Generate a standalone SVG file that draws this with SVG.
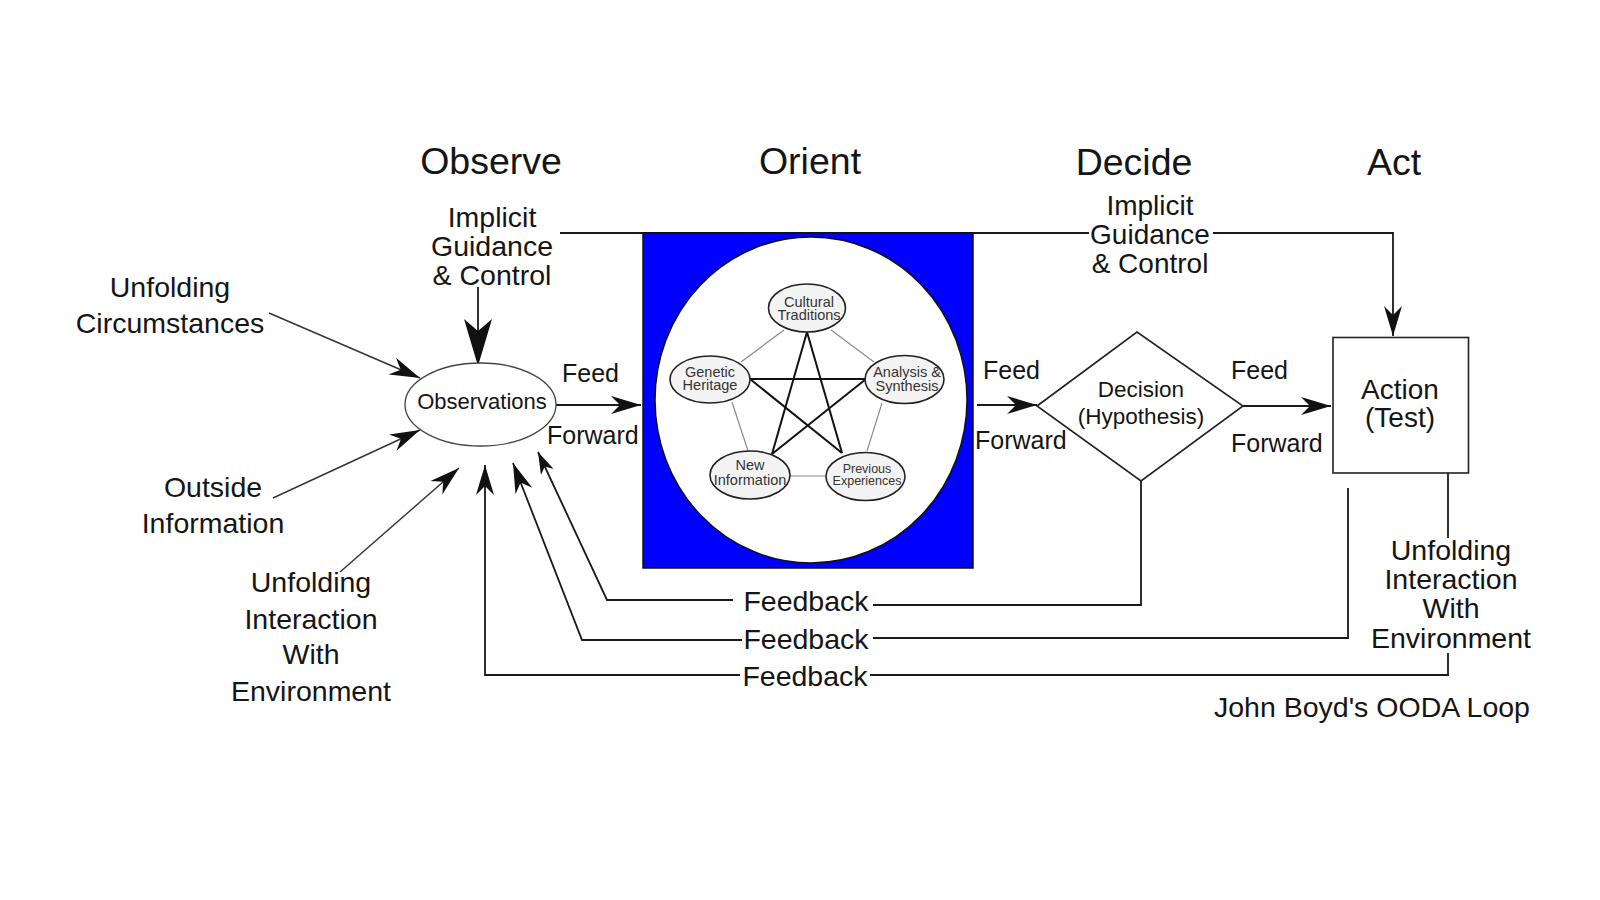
<svg xmlns="http://www.w3.org/2000/svg" width="1600" height="900" viewBox="0 0 1600 900">
<style>
  text { font-family: "Liberation Sans", Arial, sans-serif; fill: #151515; }
  .title { font-size: 37.5px; text-anchor: middle; }
  .lbl { font-size: 28.5px; text-anchor: middle; }
  .lbl2 { font-size: 28px; text-anchor: middle; }
  .ff { font-size: 25px; }
  .mid { font-size: 22.5px; text-anchor: middle; }
  .inner { font-size: 14.5px; text-anchor: middle; fill: #333; }
  .inner2 { font-size: 12.5px; text-anchor: middle; fill: #333; }
  .ln { fill: none; stroke: #1a1a1a; stroke-width: 1.8; }
  .thin { fill: none; stroke: #333; stroke-width: 1.4; }
  .star { stroke: #111; stroke-width: 2; fill: none; }
  .pent { stroke: #8a8a8a; stroke-width: 1.2; fill: none; }
  .sub { fill: #f3f3f3; stroke: #222; stroke-width: 1.6; }
</style>
<defs>
  <marker id="ah" viewBox="0 0 30 20" refX="30" refY="10" markerWidth="30" markerHeight="20" orient="auto" markerUnits="userSpaceOnUse">
    <path d="M0,1 L30,10 L0,19 L9,10 z" fill="#111"/>
  </marker>
  <marker id="ahs" viewBox="0 0 22 14" refX="22" refY="7" markerWidth="22" markerHeight="14" orient="auto" markerUnits="userSpaceOnUse">
    <path d="M0,0 L22,7 L0,14 L6,7 z" fill="#111"/>
  </marker>
  <marker id="ahb" viewBox="0 0 47 28" refX="47" refY="14" markerWidth="47" markerHeight="28" orient="auto" markerUnits="userSpaceOnUse">
    <path d="M0,0 L47,14 L0,28 L12,14 z" fill="#111"/>
  </marker>
</defs>
<rect width="1600" height="900" fill="#ffffff"/>

<g id="titles">
  <text class="title" x="491" y="174">Observe</text>
  <text class="title" x="810" y="174">Orient</text>
  <text class="title" x="1134" y="175">Decide</text>
  <text class="title" x="1394" y="175">Act</text>
</g>

<g id="connectors">
  <path class="ln" d="M560,233 H1089"/>
  <path class="ln" d="M1213,233 H1393 V336" marker-end="url(#ah)"/>
  <path class="ln" d="M478,287 V366" marker-end="url(#ahb)"/>
  <path class="thin" d="M269,313 L420,378" marker-end="url(#ah)"/>
  <path class="thin" d="M273,498 L420,430" marker-end="url(#ah)"/>
  <path class="thin" d="M340,572 L459,468" marker-end="url(#ah)"/>
  <path class="ln" d="M556,405 H641" marker-end="url(#ah)"/>
  <path class="ln" d="M977,405 H1037" marker-end="url(#ah)"/>
  <path class="ln" d="M1243,406 H1331" marker-end="url(#ah)"/>
  <path class="ln" d="M1141,481 V605 H873"/>
  <path class="ln" d="M733,600 H607 L538,452" marker-end="url(#ahs)"/>
  <path class="ln" d="M1348,488 V638 H873"/>
  <path class="ln" d="M742,640 H582 L513,463" marker-end="url(#ah)"/>
  <path class="ln" d="M1448,473 V538"/>
  <path class="ln" d="M1448,653 V675 H870"/>
  <path class="ln" d="M740,675 H485 V465" marker-end="url(#ah)"/>
</g>

<g id="implicit-left">
  <text class="lbl" x="492" y="227">Implicit</text>
  <text class="lbl" x="492" y="256">Guidance</text>
  <text class="lbl" x="492" y="285">&amp; Control</text>
</g>
<g id="implicit-right">
  <text class="lbl2" x="1150" y="214.5">Implicit</text>
  <text class="lbl2" x="1150" y="243.5">Guidance</text>
  <text class="lbl2" x="1150" y="272.5">&amp; Control</text>
</g>

<g id="unfolding-circumstances">
  <text class="lbl" x="170" y="297">Unfolding</text>
  <text class="lbl" x="170" y="333">Circumstances</text>
</g>
<g id="outside-information">
  <text class="lbl" x="213" y="497">Outside</text>
  <text class="lbl" x="213" y="533">Information</text>
</g>
<g id="unfolding-interaction-left">
  <text class="lbl" x="311" y="592">Unfolding</text>
  <text class="lbl" x="311" y="628.5">Interaction</text>
  <text class="lbl" x="311" y="664">With</text>
  <text class="lbl" x="311" y="700.5">Environment</text>
</g>

<g id="observations">
  <ellipse cx="480.5" cy="404.5" rx="75.5" ry="41.5" fill="#ffffff" stroke="#444" stroke-width="1.3"/>
  <text x="482" y="408.5" font-size="22" text-anchor="middle">Observations</text>
</g>

<g id="feed-forward-1">
  <text class="ff" x="562" y="382">Feed</text>
  <text class="ff" x="547" y="443.5">Forward</text>
</g>

<g id="orient">
  <rect x="643" y="233" width="330" height="335" fill="#0000ff" stroke="#111" stroke-width="1.5"/>
  <ellipse cx="811" cy="400" rx="156" ry="163" fill="#ffffff" stroke="#111" stroke-width="1.5"/>
  <g id="pentagon">
    <line class="pent" x1="784" y1="330" x2="741" y2="362"/>
    <line class="pent" x1="831" y1="330" x2="874" y2="362"/>
    <line class="pent" x1="732" y1="402" x2="748" y2="451"/>
    <line class="pent" x1="882" y1="403" x2="867" y2="451"/>
    <line class="pent" x1="790" y1="476" x2="826" y2="476"/>
  </g>
  <g id="star">
    <line class="star" x1="807" y1="332" x2="772" y2="454"/>
    <line class="star" x1="807" y1="332" x2="842" y2="453"/>
    <line class="star" x1="750" y1="379" x2="866" y2="379"/>
    <line class="star" x1="750" y1="379" x2="842" y2="453"/>
    <line class="star" x1="866" y1="379" x2="772" y2="454"/>
  </g>
  <g id="cultural-traditions">
    <ellipse class="sub" cx="807" cy="308" rx="38.5" ry="24"/>
    <text class="inner" x="809" y="306.5">Cultural</text>
    <text class="inner" x="809" y="320">Traditions</text>
  </g>
  <g id="genetic-heritage">
    <ellipse class="sub" cx="710" cy="379.5" rx="40" ry="23.5"/>
    <text class="inner" x="710" y="376.5">Genetic</text>
    <text class="inner" x="710" y="390">Heritage</text>
  </g>
  <g id="analysis-synthesis">
    <ellipse class="sub" cx="904.5" cy="379.5" rx="39.5" ry="24"/>
    <text class="inner" x="907" y="376.5">Analysis &amp;</text>
    <text class="inner" x="907" y="391">Synthesis</text>
  </g>
  <g id="new-information">
    <ellipse class="sub" cx="750" cy="475" rx="40" ry="24"/>
    <text class="inner" x="750" y="470">New</text>
    <text class="inner" x="750" y="484.5">Information</text>
  </g>
  <g id="previous-experiences">
    <ellipse class="sub" cx="865.5" cy="476.5" rx="39.5" ry="24"/>
    <text class="inner2" x="867" y="473">Previous</text>
    <text class="inner2" x="867" y="484.5">Experiences</text>
  </g>
</g>

<g id="feed-forward-2">
  <text class="ff" x="983" y="378.5">Feed</text>
  <text class="ff" x="975" y="448.5">Forward</text>
</g>

<g id="decision">
  <polygon points="1037,406 1137,332 1243,406 1141,481" fill="#ffffff" stroke="#222" stroke-width="1.6"/>
  <text class="mid" x="1141" y="397">Decision</text>
  <text class="mid" x="1141" y="423.5">(Hypothesis)</text>
</g>

<g id="feed-forward-3">
  <text class="ff" x="1231" y="378.5">Feed</text>
  <text class="ff" x="1231" y="452">Forward</text>
</g>

<g id="action">
  <rect x="1333" y="337.5" width="135.5" height="135.5" fill="#ffffff" stroke="#222" stroke-width="1.6"/>
  <text x="1400" y="398.5" font-size="28" text-anchor="middle">Action</text>
  <text x="1400" y="427" font-size="28" text-anchor="middle">(Test)</text>
</g>

<g id="unfolding-interaction-right">
  <text class="lbl" x="1451" y="560">Unfolding</text>
  <text class="lbl" x="1451" y="589">Interaction</text>
  <text class="lbl" x="1451" y="618">With</text>
  <text class="lbl" x="1451" y="647.5">Environment</text>
</g>

<g id="feedback-labels">
  <text class="lbl" x="806" y="611">Feedback</text>
  <text class="lbl" x="806" y="648.5">Feedback</text>
  <text class="lbl" x="805" y="686">Feedback</text>
</g>

<g id="caption">
  <text x="1214" y="716.5" font-size="28.5">John Boyd's OODA Loop</text>
</g>
</svg>
